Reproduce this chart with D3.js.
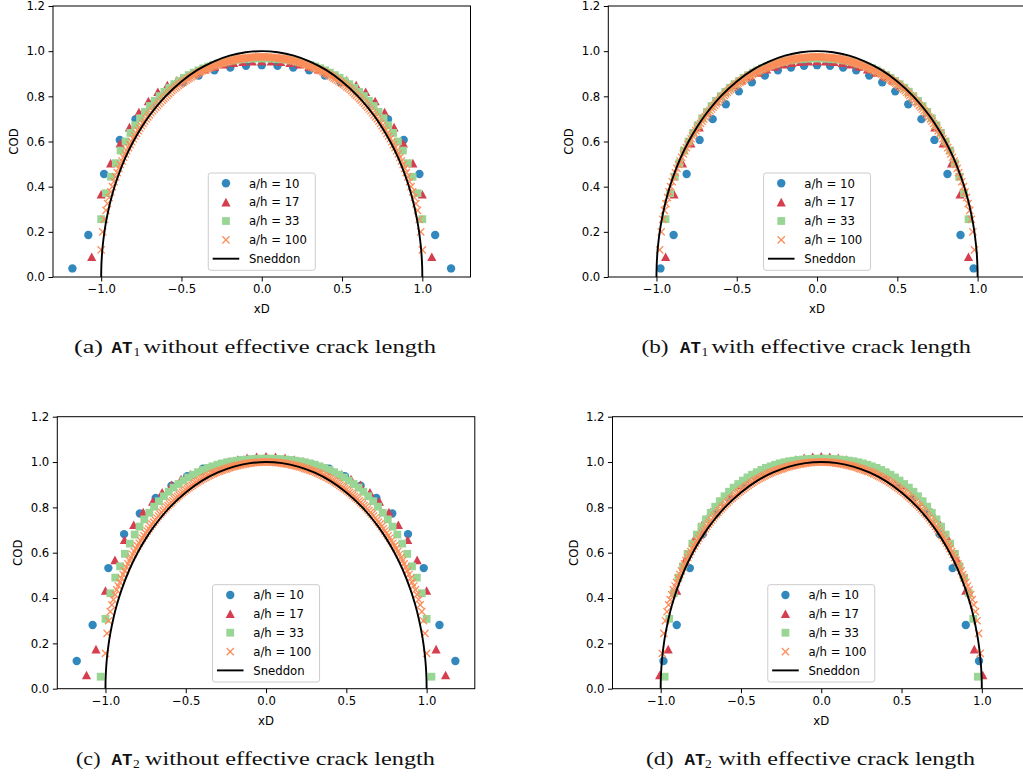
<!DOCTYPE html>
<html>
<head>
<meta charset="utf-8">
<script src="https://cdn.jsdelivr.net/npm/d3@7"></script>
<style>
  body { margin: 0; background: #fff; }
</style>
</head>
<body>
<div id="chart"></div>
<script>
const width = 1023;
const height = 777;

// Tick labels and legend names
const xTicks = [-1.0, -0.5, 0.0, 0.5, 1.0];
const yTicks = [0.0, 0.2, 0.4, 0.6, 0.8, 1.0, 1.2];
const seriesNames = ["a/h = 10", "a/h = 17", "a/h = 33", "a/h = 100"];
const seriesColors = ["#3288bd", "#d53e4f", "#99d594", "#fc8d59"];

// xD positions of the nodes (right half, mirrored to the left), normalised by the nominal crack length
const xH10 = [0, 0.098, 0.196, 0.295, 0.393, 0.491, 0.589, 0.687, 0.786, 0.884, 0.982, 1.080, 1.179];
const xH17 = [0, 0.059, 0.118, 0.176, 0.235, 0.294, 0.353, 0.412, 0.471, 0.529, 0.588, 0.647, 0.706,
  0.765, 0.824, 0.882, 0.941, 1.000, 1.059, 1.118];
const xH33 = [0, 0.030, 0.061, 0.091, 0.121, 0.152, 0.182, 0.212, 0.242, 0.273, 0.303, 0.333, 0.364,
  0.394, 0.424, 0.455, 0.485, 0.515, 0.545, 0.576, 0.606, 0.636, 0.667, 0.697, 0.727, 0.758, 0.788,
  0.818, 0.848, 0.879, 0.909, 0.939, 0.970, 1.000, 1.030];
const xH100 = [0, 0.01, 0.02, 0.03, 0.04, 0.05, 0.06, 0.07, 0.08, 0.09, 0.10,
  0.11, 0.12, 0.13, 0.14, 0.15, 0.16, 0.17, 0.18, 0.19, 0.20,
  0.21, 0.22, 0.23, 0.24, 0.25, 0.26, 0.27, 0.28, 0.29, 0.30,
  0.31, 0.32, 0.33, 0.34, 0.35, 0.36, 0.37, 0.38, 0.39, 0.40,
  0.41, 0.42, 0.43, 0.44, 0.45, 0.46, 0.47, 0.48, 0.49, 0.50,
  0.51, 0.52, 0.53, 0.54, 0.55, 0.56, 0.57, 0.58, 0.59, 0.60,
  0.61, 0.62, 0.63, 0.64, 0.65, 0.66, 0.67, 0.68, 0.69, 0.70,
  0.71, 0.72, 0.73, 0.74, 0.75, 0.76, 0.77, 0.78, 0.79, 0.80,
  0.81, 0.82, 0.83, 0.84, 0.85, 0.86, 0.87, 0.88, 0.89, 0.90,
  0.91, 0.92, 0.93, 0.94, 0.95, 0.96, 0.97, 0.98, 0.99, 1.00];

// COD at those nodes, AT1 model
const codAT1_h10 = [0.938, 0.935, 0.928, 0.915, 0.892, 0.862, 0.822, 0.765, 0.699, 0.607, 0.456, 0.186, 0.038];
const codAT1_h17 = [0.956, 0.955, 0.953, 0.949, 0.942, 0.932, 0.920, 0.905, 0.889, 0.871, 0.850, 0.820,
  0.779, 0.730, 0.663, 0.592, 0.504, 0.366, 0.089];
const codAT1_h33 = [0.968, 0.968, 0.967, 0.966, 0.964, 0.962, 0.959, 0.955, 0.951, 0.945,
  0.939, 0.932, 0.924, 0.915, 0.905, 0.894, 0.882, 0.868, 0.854, 0.838,
  0.820, 0.801, 0.780, 0.757, 0.731, 0.703, 0.672, 0.638, 0.600, 0.560,
  0.504, 0.444, 0.371, 0.256];
const codAT1_h100 = [0.975, 0.975, 0.975, 0.974, 0.974, 0.973, 0.973, 0.972, 0.971, 0.971, 0.970,
  0.969, 0.968, 0.967, 0.966, 0.965, 0.963, 0.962, 0.960, 0.959, 0.957,
  0.955, 0.953, 0.951, 0.949, 0.947, 0.945, 0.942, 0.940, 0.937, 0.934,
  0.931, 0.928, 0.925, 0.922, 0.919, 0.916, 0.913, 0.909, 0.906, 0.902,
  0.898, 0.894, 0.890, 0.886, 0.881, 0.877, 0.872, 0.868, 0.863, 0.858,
  0.853, 0.848, 0.842, 0.837, 0.831, 0.825, 0.818, 0.811, 0.804, 0.797,
  0.790, 0.783, 0.775, 0.768, 0.760, 0.752, 0.744, 0.736, 0.727, 0.718,
  0.709, 0.700, 0.690, 0.680, 0.670, 0.659, 0.648, 0.636, 0.624, 0.612,
  0.599, 0.586, 0.573, 0.559, 0.545, 0.530, 0.514, 0.498, 0.481, 0.462,
  0.443, 0.422, 0.400, 0.377, 0.352, 0.325, 0.295, 0.255, 0.200, 0.120];

// COD at those nodes, AT2 model
const codAT2_h10 = [1.012, 1.007, 0.998, 0.987, 0.971, 0.937, 0.896, 0.841, 0.773, 0.682, 0.532, 0.281, 0.122];
const codAT2_h17 = [1.025, 1.023, 1.018, 1.011, 1.002, 0.990, 0.977, 0.962, 0.945, 0.925, 0.899, 0.866,
  0.826, 0.779, 0.723, 0.657, 0.568, 0.433, 0.174, 0.060];
const codAT2_h33 = [1.015, 1.015, 1.014, 1.013, 1.011, 1.009, 1.006, 1.003, 0.999, 0.994,
  0.988, 0.981, 0.974, 0.965, 0.955, 0.944, 0.932, 0.918, 0.903, 0.887,
  0.869, 0.849, 0.827, 0.803, 0.776, 0.747, 0.715, 0.680, 0.640, 0.595,
  0.540, 0.490, 0.421, 0.308, 0.053];
const codAT2_h100 = [1.000, 1.000, 1.000, 0.999, 0.999, 0.999, 0.998, 0.998, 0.997, 0.996, 0.995,
  0.994, 0.993, 0.992, 0.990, 0.989, 0.987, 0.986, 0.984, 0.983, 0.981,
  0.979, 0.977, 0.975, 0.972, 0.970, 0.968, 0.965, 0.963, 0.960, 0.958,
  0.955, 0.952, 0.949, 0.946, 0.942, 0.939, 0.935, 0.932, 0.928, 0.924,
  0.920, 0.916, 0.911, 0.907, 0.902, 0.897, 0.892, 0.887, 0.882, 0.877,
  0.871, 0.866, 0.860, 0.854, 0.848, 0.842, 0.836, 0.829, 0.822, 0.815,
  0.808, 0.801, 0.793, 0.786, 0.778, 0.770, 0.762, 0.753, 0.744, 0.735,
  0.726, 0.716, 0.706, 0.696, 0.686, 0.675, 0.664, 0.653, 0.642, 0.630,
  0.618, 0.605, 0.592, 0.579, 0.565, 0.551, 0.536, 0.520, 0.504, 0.487,
  0.469, 0.453, 0.436, 0.415, 0.393, 0.370, 0.340, 0.300, 0.244, 0.156];

// effective crack length / nominal crack length, per a/h
const aEffAT1 = [1.209, 1.123, 1.060, 1.020];
const aEffAT2 = [1.200, 1.111, 1.056, 1.010];

// Sneddon analytical opening (right half)
const sneddonX = [0, 0.1, 0.2, 0.3, 0.4, 0.5, 0.6, 0.7, 0.75, 0.8, 0.85, 0.9, 0.93, 0.95, 0.97, 0.98, 0.99, 0.995, 0.999, 1.0];
const sneddonY = [1, 0.995, 0.980, 0.954, 0.917, 0.866, 0.800, 0.714, 0.661, 0.600, 0.527, 0.436, 0.368, 0.312, 0.243, 0.199, 0.141, 0.0999, 0.0447, 0];

const xNodes = [xH10, xH17, xH33, xH100];
const codAT1 = [codAT1_h10, codAT1_h17, codAT1_h33, codAT1_h100];
const codAT2 = [codAT2_h10, codAT2_h17, codAT2_h33, codAT2_h100];
const ones = [1, 1, 1, 1];

const panels = [
  { cod: codAT1, eff: ones, left: 53, top: 6, bottom: 277,
    cap: { tag: "(a)", sub: "1", rest: "without effective crack length", y: 353,
           tagX: 74, tagW: 29, atX: 111.5, subX: 133.5, restX: 143.5, restW: 292.5 } },
  { cod: codAT1, eff: aEffAT1, left: 608.3, top: 6, bottom: 277,
    cap: { tag: "(b)", sub: "1", rest: "with effective crack length", y: 353,
           tagX: 641.5, tagW: 27, atX: 680, subX: 701.5, restX: 711.5, restW: 259.5 } },
  { cod: codAT2, eff: ones, left: 57.3, top: 416.7, bottom: 688.7,
    cap: { tag: "(c)", sub: "2", rest: "without effective crack length", y: 765,
           tagX: 76, tagW: 24.5, atX: 111.5, subX: 133, restX: 145, restW: 290 } },
  { cod: codAT2, eff: aEffAT2, left: 612.5, top: 416.7, bottom: 688.7,
    cap: { tag: "(d)", sub: "2", rest: "with effective crack length", y: 765,
           tagX: 646, tagW: 27.5, atX: 684.5, subX: 705, restX: 718.5, restW: 256.5 } }
];

const plotW = 417.5;
const tickFont = "DejaVu Sans, sans-serif";
const fs = 11.7;
const fmt = d3.format(".1f");
const minus = s => s.replace("-", "\u2212");

const svg = d3.select("#chart").append("svg")
  .attr("width", width)
  .attr("height", height)
  .style("background", "#fff");

// marker drawers
function drawMarker(g, kind, color) {
  if (kind === 0) {
    g.append("circle").attr("r", 4.2).attr("fill", color);
  } else if (kind === 1) {
    g.append("path").attr("d", "M0,-4.4L4.6,4.2L-4.6,4.2Z").attr("fill", color);
  } else if (kind === 2) {
    g.append("rect").attr("x", -3.9).attr("y", -3.9).attr("width", 7.8).attr("height", 7.8).attr("fill", color);
  } else {
    g.append("path").attr("d", "M-3.6,-3.6L3.6,3.6M-3.6,3.6L3.6,-3.6")
      .attr("stroke", color).attr("stroke-width", 1.25).attr("fill", "none");
  }
}

panels.forEach((p, pi) => {
  const x = d3.scaleLinear().domain([-1.3, 1.3]).range([p.left, p.left + plotW]);
  const y = d3.scaleLinear().domain([0, 1.2]).range([p.bottom, p.top]);

  const clipId = "clip" + pi;
  svg.append("clipPath").attr("id", clipId)
    .append("rect").attr("x", p.left).attr("y", p.top)
    .attr("width", plotW).attr("height", p.bottom - p.top);

  const plot = svg.append("g").attr("clip-path", `url(#${clipId})`);

  // scatter series, mirrored about xD = 0
  xNodes.forEach((xs, si) => {
    const ys = p.cod[si];
    const pts = [];
    ys.forEach((v, i) => {
      const xv = xs[i] / p.eff[si];
      pts.push([xv, v]);
      if (xs[i] > 0) pts.push([-xv, v]);
    });
    plot.append("g").selectAll("g")
      .data(pts)
      .enter().append("g")
      .attr("transform", d => `translate(${x(d[0])},${y(d[1])})`)
      .each(function() { drawMarker(d3.select(this), si, seriesColors[si]); });
  });

  // Sneddon curve
  const sned = sneddonX.map((v, i) => [-v, sneddonY[i]]).reverse()
    .concat(sneddonX.slice(1).map((v, i) => [v, sneddonY[i + 1]]));
  plot.append("path")
    .datum(sned)
    .attr("d", d3.line().x(d => x(d[0])).y(d => y(d[1])).curve(d3.curveCatmullRom.alpha(0.5)))
    .attr("fill", "none")
    .attr("stroke", "#000")
    .attr("stroke-width", 1.9);

  // axes
  const xAxis = svg.append("g").attr("transform", `translate(0,${p.bottom})`)
    .call(d3.axisBottom(x).tickValues(xTicks).tickSize(4.5).tickPadding(3.5).tickFormat(d => minus(fmt(d))));
  const yAxis = svg.append("g").attr("transform", `translate(${p.left},0)`)
    .call(d3.axisLeft(y).tickValues(yTicks).tickSize(4.5).tickPadding(3.5).tickFormat(fmt));
  [xAxis, yAxis].forEach(a => {
    a.select(".domain").remove();
    a.selectAll("line").attr("stroke", "#000").attr("stroke-width", 1);
    a.selectAll("text").attr("font-family", tickFont).attr("font-size", fs).attr("fill", "#000");
  });

  // frame
  svg.append("rect")
    .attr("x", p.left).attr("y", p.top)
    .attr("width", plotW).attr("height", p.bottom - p.top)
    .attr("fill", "none").attr("stroke", "#000").attr("stroke-width", 1);

  // axis labels
  svg.append("text")
    .attr("x", p.left + plotW / 2).attr("y", p.bottom + 36)
    .attr("text-anchor", "middle")
    .attr("font-family", tickFont).attr("font-size", fs)
    .text("xD");
  svg.append("text")
    .attr("transform", `translate(${p.left - 35},${(p.top + p.bottom) / 2}) rotate(-90)`)
    .attr("text-anchor", "middle")
    .attr("font-family", tickFont).attr("font-size", fs)
    .text("COD");

  // legend (lower center)
  const lw = 107, lh = 97.3;
  const lx = p.left + plotW / 2 - lw / 2;
  const ly = p.bottom - 6.7 - lh;
  const leg = svg.append("g").attr("transform", `translate(${lx},${ly})`);
  leg.append("rect").attr("width", lw).attr("height", lh).attr("rx", 2.5)
    .attr("fill", "#fff").attr("fill-opacity", 0.8)
    .attr("stroke", "#cccccc").attr("stroke-width", 1);
  const rowY = [10.3, 29.2, 48, 66.9, 85.7];
  seriesNames.forEach((name, i) => {
    const g = leg.append("g").attr("transform", `translate(17.7,${rowY[i]})`);
    drawMarker(g, i, seriesColors[i]);
    leg.append("text").attr("x", 40.7).attr("y", rowY[i]).attr("dy", "0.36em")
      .attr("font-family", tickFont).attr("font-size", fs).text(name);
  });
  leg.append("line").attr("x1", 4.4).attr("x2", 31).attr("y1", rowY[4]).attr("y2", rowY[4])
    .attr("stroke", "#000").attr("stroke-width", 1.9);
  leg.append("text").attr("x", 40.7).attr("y", rowY[4]).attr("dy", "0.36em")
    .attr("font-family", tickFont).attr("font-size", fs).text("Sneddon");

  // caption
  const c = p.cap;
  const cap = svg.append("g").attr("font-family", "Liberation Serif, serif").attr("fill", "#111");
  cap.append("text").attr("x", c.tagX).attr("y", c.y).attr("font-size", 18.5)
    .attr("textLength", c.tagW).attr("lengthAdjust", "spacingAndGlyphs").text(c.tag);
  cap.append("text").attr("x", c.atX).attr("y", c.y).attr("font-size", 16)
    .attr("font-family", "Liberation Mono, monospace").attr("font-weight", "bold")
    .attr("textLength", 21).attr("lengthAdjust", "spacingAndGlyphs").text("AT");
  cap.append("text").attr("x", c.subX).attr("y", c.y + 3).attr("font-size", 13.5).text(c.sub);
  cap.append("text").attr("x", c.restX).attr("y", c.y).attr("font-size", 18.5)
    .attr("textLength", c.restW).attr("lengthAdjust", "spacingAndGlyphs").text(c.rest);
});
</script>
</body>
</html>
